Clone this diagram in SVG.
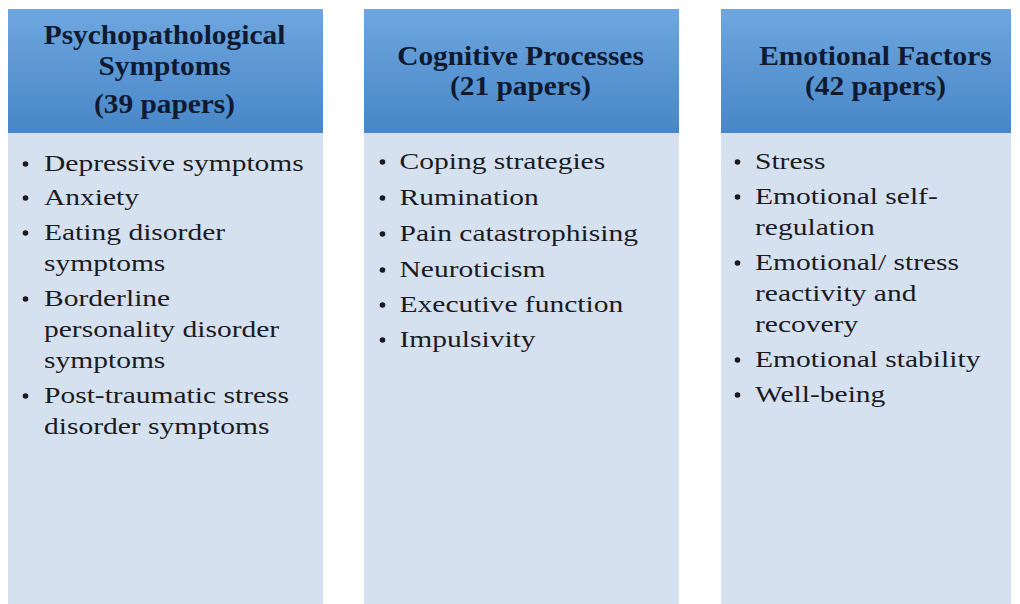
<svg xmlns="http://www.w3.org/2000/svg" width="1020" height="604" viewBox="0 0 1020 604">
  <defs>
    <linearGradient id="headFill" x1="0" y1="0" x2="0" y2="1">
      <stop offset="0" stop-color="#6ea7e0"/>
      <stop offset="1" stop-color="#4886c7"/>
    </linearGradient>
    <style>
      .head { fill: url(#headFill); }
      .body { fill: #d6e1f0; }
      .title { font-family: "Liberation Serif", "Times New Roman", serif; font-weight: bold; font-size: 28px; fill: #0f1a30; text-anchor: middle; }
      .item { font-family: "Liberation Serif", "Times New Roman", serif; font-size: 24px; fill: #1b1b1f; }
      .dot { fill: #1b1b1f; }
    </style>
  </defs>
  <rect width="1020" height="604" fill="#ffffff"/>

  <!-- Column 1: psychopathological symptoms -->
  <g id="psychopathological">
    <rect class="body" x="8" y="133" width="315" height="471"/>
    <rect class="head" x="8" y="9" width="315" height="124"/>
    <g transform="translate(164.5,0) scale(1.05,1)">
      <text class="title" x="0" y="44">Psychopathological</text>
      <text class="title" x="0" y="75">Symptoms</text>
      <text class="title" x="0" y="113">(39 papers)</text>
    </g>
    <circle class="dot" cx="25.5" cy="164" r="2.8"/>
    <circle class="dot" cx="25.5" cy="198" r="2.8"/>
    <circle class="dot" cx="25.5" cy="233" r="2.8"/>
    <circle class="dot" cx="25.5" cy="299" r="2.8"/>
    <circle class="dot" cx="25.5" cy="396" r="2.8"/>
    <g transform="translate(44,0) scale(1.23,1)">
      <text class="item" x="0" y="171">Depressive symptoms</text>
      <text class="item" x="0" y="205">Anxiety</text>
      <text class="item" x="0" y="240">Eating disorder</text>
      <text class="item" x="0" y="271">symptoms</text>
      <text class="item" x="0" y="306">Borderline</text>
      <text class="item" x="0" y="337">personality disorder</text>
      <text class="item" x="0" y="368">symptoms</text>
      <text class="item" x="0" y="403">Post-traumatic stress</text>
      <text class="item" x="0" y="434">disorder symptoms</text>
    </g>
  </g>

  <!-- Column 2: cognitive processes -->
  <g id="cognitive">
    <rect class="body" x="364" y="133" width="315" height="471"/>
    <rect class="head" x="364" y="9" width="315" height="124"/>
    <g transform="translate(520.5,0) scale(1.05,1)">
      <text class="title" x="0" y="65">Cognitive Processes</text>
      <text class="title" x="0" y="95">(21 papers)</text>
    </g>
    <circle class="dot" cx="382.5" cy="162" r="2.8"/>
    <circle class="dot" cx="382.5" cy="198" r="2.8"/>
    <circle class="dot" cx="382.5" cy="234" r="2.8"/>
    <circle class="dot" cx="382.5" cy="270" r="2.8"/>
    <circle class="dot" cx="382.5" cy="305" r="2.8"/>
    <circle class="dot" cx="382.5" cy="340" r="2.8"/>
    <g transform="translate(399.5,0) scale(1.23,1)">
      <text class="item" x="0" y="169">Coping strategies</text>
      <text class="item" x="0" y="205">Rumination</text>
      <text class="item" x="0" y="241">Pain catastrophising</text>
      <text class="item" x="0" y="277">Neuroticism</text>
      <text class="item" x="0" y="312">Executive function</text>
      <text class="item" x="0" y="347">Impulsivity</text>
    </g>
  </g>

  <!-- Column 3: emotional factors -->
  <g id="emotional">
    <rect class="body" x="721" y="133" width="290" height="471"/>
    <rect class="head" x="721" y="9" width="290" height="124"/>
    <g transform="translate(875.5,0) scale(1.05,1)">
      <text class="title" x="0" y="65">Emotional Factors</text>
      <text class="title" x="0" y="95">(42 papers)</text>
    </g>
    <circle class="dot" cx="737.5" cy="162" r="2.8"/>
    <circle class="dot" cx="737.5" cy="197" r="2.8"/>
    <circle class="dot" cx="737.5" cy="263" r="2.8"/>
    <circle class="dot" cx="737.5" cy="360" r="2.8"/>
    <circle class="dot" cx="737.5" cy="395" r="2.8"/>
    <g transform="translate(755,0) scale(1.23,1)">
      <text class="item" x="0" y="169">Stress</text>
      <text class="item" x="0" y="204">Emotional self-</text>
      <text class="item" x="0" y="235">regulation</text>
      <text class="item" x="0" y="270">Emotional/ stress</text>
      <text class="item" x="0" y="301">reactivity and</text>
      <text class="item" x="0" y="332">recovery</text>
      <text class="item" x="0" y="367">Emotional stability</text>
      <text class="item" x="0" y="402">Well-being</text>
    </g>
  </g>

  <!-- no connectors in this figure -->
  <g id="connectors"/>
</svg>
